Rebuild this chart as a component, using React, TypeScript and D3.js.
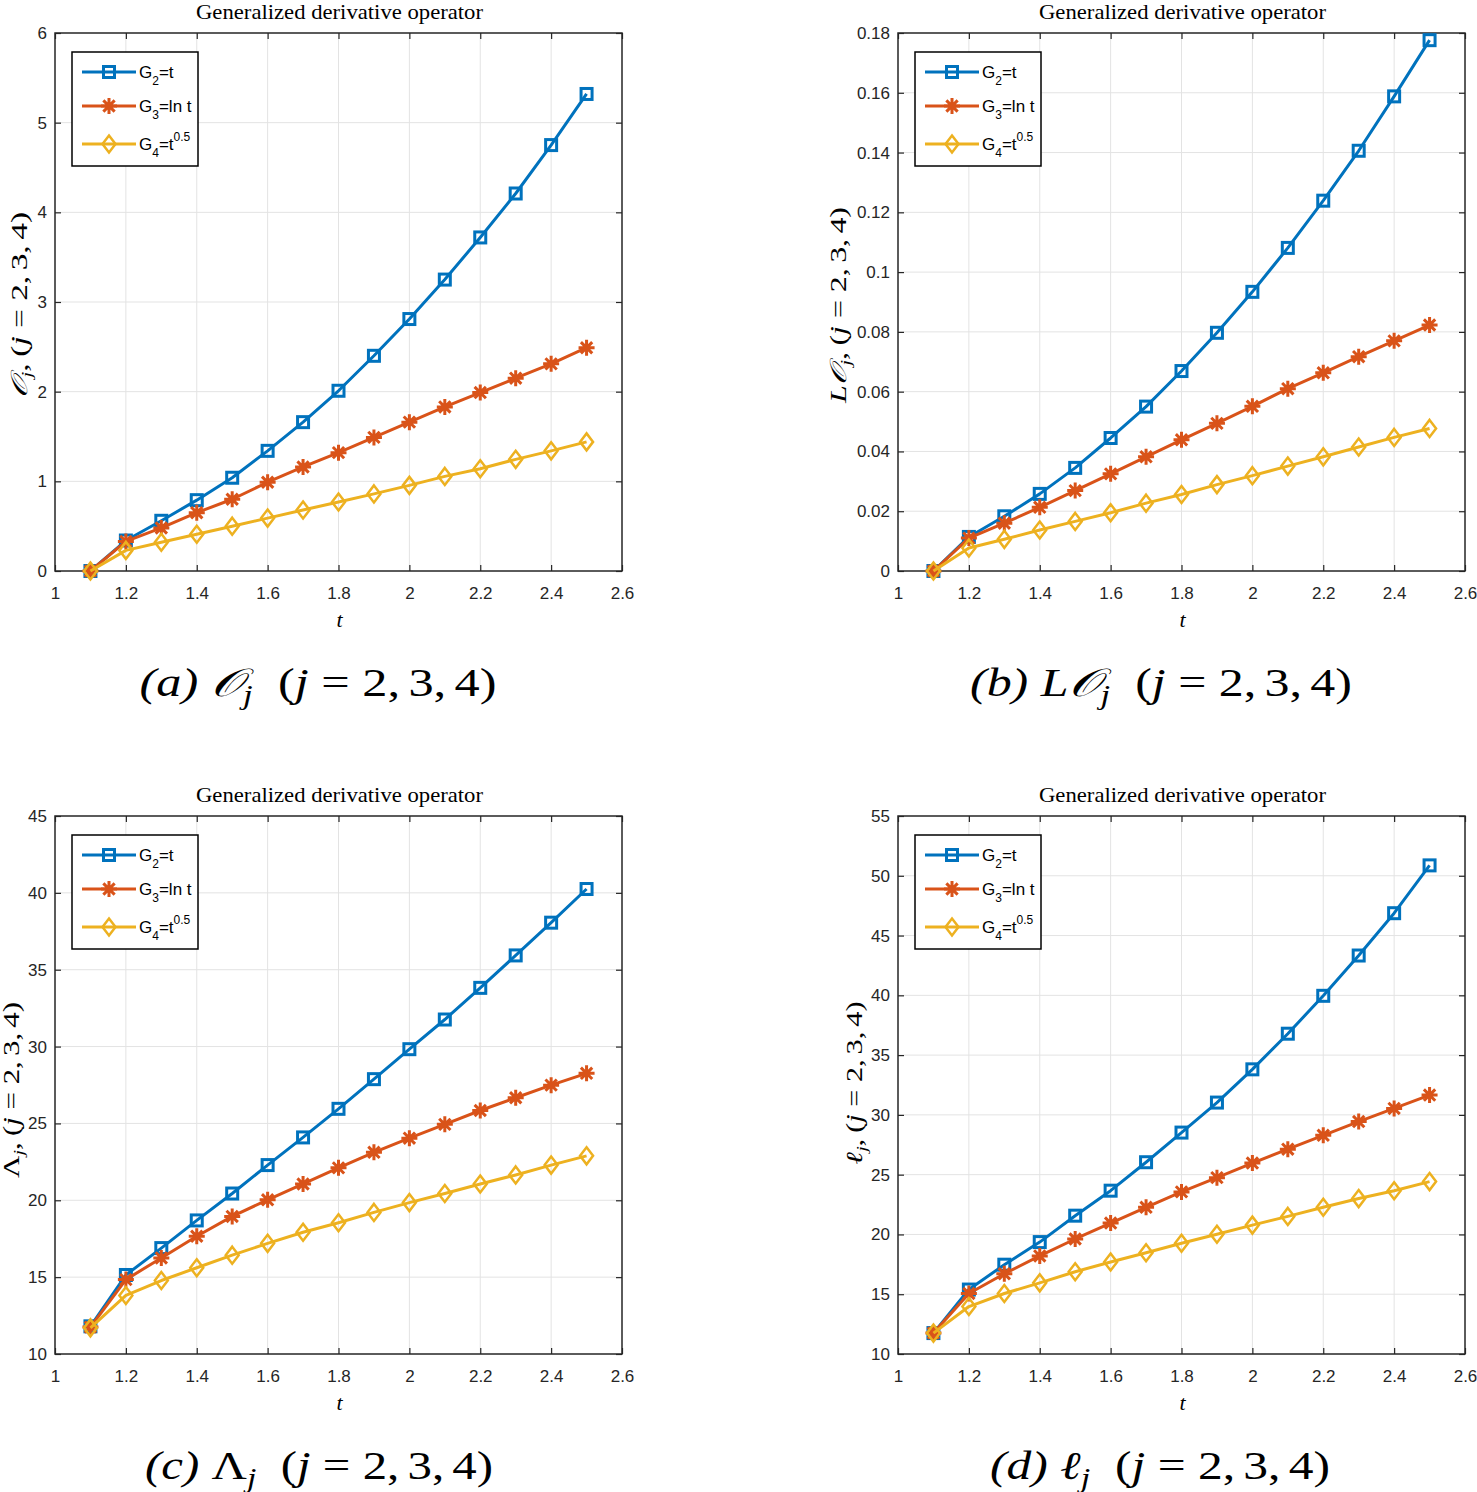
import React, { useEffect, useRef } from 'react'
import * as d3 from 'd3'

// t values shared by all panels
const tValues = [1.1, 1.2, 1.3, 1.4, 1.5, 1.6, 1.7, 1.8, 1.9, 2.0, 2.1, 2.2, 2.3, 2.4, 2.5]

// (a) O_j
const aG2 = [0, 0.34, 0.56, 0.79, 1.04, 1.34, 1.66, 2.01, 2.4, 2.81, 3.25, 3.72, 4.21, 4.75, 5.32]
const aG3 = [0, 0.33, 0.48, 0.65, 0.8, 0.99, 1.16, 1.32, 1.49, 1.66, 1.83, 1.99, 2.15, 2.31, 2.49]
const aG4 = [0, 0.23, 0.32, 0.41, 0.5, 0.59, 0.68, 0.77, 0.86, 0.955, 1.055, 1.14, 1.245, 1.34, 1.44]

// (b) LO_j
const bG2 = [0, 0.0114, 0.0183, 0.0258, 0.0345, 0.0445, 0.055, 0.0669, 0.0797, 0.0934, 0.1081, 0.1239, 0.1406, 0.1588, 0.1776]
const bG3 = [0, 0.011, 0.016, 0.0213, 0.0269, 0.0325, 0.0382, 0.0439, 0.0494, 0.0551, 0.061, 0.0663, 0.0717, 0.077, 0.0823]
const bG4 = [0, 0.0077, 0.0106, 0.0137, 0.0166, 0.0195, 0.0227, 0.0256, 0.0289, 0.0319, 0.0351, 0.0382, 0.0415, 0.0447, 0.0477]

// (c) Lambda_j
const cG2 = [11.8, 15.14, 16.89, 18.69, 20.44, 22.29, 24.09, 25.95, 27.88, 29.83, 31.76, 33.82, 35.93, 38.06, 40.25]
const cG3 = [11.75, 14.84, 16.25, 17.66, 18.95, 20.03, 21.06, 22.11, 23.12, 24.04, 24.94, 25.84, 26.67, 27.49, 28.26]
const cG4 = [11.7, 13.81, 14.78, 15.61, 16.43, 17.2, 17.92, 18.54, 19.21, 19.85, 20.44, 21.06, 21.65, 22.29, 22.89]

// (d) l_j
const dG2 = [11.75, 15.39, 17.47, 19.36, 21.57, 23.66, 26.04, 28.52, 31.03, 33.81, 36.79, 39.96, 43.33, 46.87, 50.87]
const dG3 = [11.75, 15.06, 16.71, 18.2, 19.62, 20.95, 22.27, 23.56, 24.75, 25.97, 27.13, 28.29, 29.44, 30.54, 31.66]
const dG4 = [11.75, 13.97, 15.06, 15.95, 16.88, 17.7, 18.47, 19.26, 20.02, 20.78, 21.51, 22.27, 23.0, 23.66, 24.42]

const xTicks = [1, 1.2, 1.4, 1.6, 1.8, 2, 2.2, 2.4, 2.6]
const aTicks = [0, 1, 2, 3, 4, 5, 6]
const bTicks = [0, 0.02, 0.04, 0.06, 0.08, 0.1, 0.12, 0.14, 0.16, 0.18]
const cTicks = [10, 15, 20, 25, 30, 35, 40, 45]
const dTicks = [10, 15, 20, 25, 30, 35, 40, 45, 50, 55]

const colors = ['#0072BD', '#D95319', '#EDB120']
const markers = ['square', 'asterisk', 'diamond']

const panels = [
  { left: 55, top: 33, yTicks: aTicks, series: [aG2, aG3, aG4], sym: '𝒪', pre: '', tag: 'a',
    yl: [27, 305, 186], cap: [318, 357] },
  { left: 898, top: 33, yTicks: bTicks, series: [bG2, bG3, bG4], sym: '𝒪', pre: 'L', tag: 'b',
    yl: [846, 305, 196], cap: [1161, 382] },
  { left: 55, top: 816, yTicks: cTicks, series: [cG2, cG3, cG4], sym: 'Λ', pre: '', tag: 'c',
    yl: [19, 1090, 176], cap: [319, 348] },
  { left: 898, top: 816, yTicks: dTicks, series: [dG2, dG3, dG4], sym: 'ℓ', pre: '', tag: 'd',
    yl: [862, 1083, 163], cap: [1160, 340] },
]

const W = 567
const H = 538
const serif = "'Liberation Serif', 'DejaVu Serif', serif"
const sans = "'Liberation Sans', Arial, sans-serif"

function drawMarker(g, type, x, y, color) {
  if (type === 'square') {
    g.append('rect').attr('x', x - 5.5).attr('y', y - 5.5).attr('width', 11).attr('height', 11)
      .attr('fill', 'none').attr('stroke', color).attr('stroke-width', 3)
  } else if (type === 'asterisk') {
    const r = 8
    const d = r * Math.SQRT1_2
    g.append('path')
      .attr('d', `M${x - r},${y}L${x + r},${y}M${x},${y - r}L${x},${y + r}M${x - d},${y - d}L${x + d},${y + d}M${x - d},${y + d}L${x + d},${y - d}`)
      .attr('stroke', color).attr('stroke-width', 3).attr('fill', 'none')
  } else {
    g.append('path')
      .attr('d', `M${x},${y - 8.5}L${x + 6.5},${y}L${x},${y + 8.5}L${x - 6.5},${y}Z`)
      .attr('fill', 'none').attr('stroke', color).attr('stroke-width', 2.5)
  }
}

// math-like label: [prefix]Sym_j<sep>(j = 2, 3, 4)
function mathText(t, p, subSize, sep) {
  if (p.pre) t.append('tspan').attr('font-style', 'italic').text(p.pre)
  t.append('tspan').attr('font-style', p.sym === 'Λ' ? 'normal' : 'italic').text(p.sym)
  t.append('tspan').attr('font-style', 'italic').attr('font-size', subSize).attr('dy', subSize * 0.3).text('j')
  t.append('tspan').attr('dy', -subSize * 0.3).text(sep + '(')
  t.append('tspan').attr('font-style', 'italic').text('j')
  t.append('tspan').text('\u2005=\u20052,\u20063,\u20064)')
}

const App = () => {
  const ref = useRef(null)

  useEffect(() => {
    const svg = d3.select(ref.current)
    svg.selectAll('*').remove()

    panels.forEach((p) => {
      const x = d3.scaleLinear().domain([1, 2.6]).range([0, W])
      const y = d3.scaleLinear().domain([p.yTicks[0], p.yTicks[p.yTicks.length - 1]]).range([H, 0])
      const g = svg.append('g').attr('transform', `translate(${p.left},${p.top})`)

      // grid
      g.selectAll('.gx').data(xTicks.slice(1, -1)).enter().append('line')
        .attr('x1', (d) => x(d)).attr('x2', (d) => x(d)).attr('y1', 0).attr('y2', H)
        .attr('stroke', '#e3e3e3').attr('stroke-width', 1)
      g.selectAll('.gy').data(p.yTicks.slice(1, -1)).enter().append('line')
        .attr('y1', (d) => y(d)).attr('y2', (d) => y(d)).attr('x1', 0).attr('x2', W)
        .attr('stroke', '#e3e3e3').attr('stroke-width', 1)

      const fmt = (d) => String(+(+d).toFixed(2))

      // axes with inward ticks
      const bottom = g.append('g').attr('transform', `translate(0,${H})`)
        .call(d3.axisBottom(x).tickValues(xTicks).tickSize(-6).tickPadding(19).tickFormat(fmt))
      const left = g.append('g')
        .call(d3.axisLeft(y).tickValues(p.yTicks).tickSize(-6).tickPadding(8).tickFormat(fmt))
      g.append('g').call(d3.axisTop(x).tickValues(xTicks).tickSize(-6).tickFormat(() => ''))
      g.append('g').attr('transform', `translate(${W},0)`)
        .call(d3.axisRight(y).tickValues(p.yTicks).tickSize(-6).tickFormat(() => ''))
      g.selectAll('.domain').remove()
      g.selectAll('.tick line').attr('stroke', '#262626').attr('stroke-width', 1.2)
      ;[bottom, left].forEach((a) => a.selectAll('text').attr('font-family', sans).attr('font-size', 17).attr('fill', '#262626'))
      bottom.selectAll('text').attr('dy', '0.5em')

      g.append('rect').attr('width', W).attr('height', H).attr('fill', 'none')
        .attr('stroke', '#262626').attr('stroke-width', 1.5)

      // title
      g.append('text').attr('x', W / 2 + 1).attr('y', -14).attr('text-anchor', 'middle')
        .attr('font-family', serif).attr('font-size', 21).attr('fill', '#000')
        .attr('textLength', 287).attr('lengthAdjust', 'spacingAndGlyphs')
        .text('Generalized derivative operator')

      // x label
      g.append('text').attr('x', W / 2 + 1).attr('y', H + 56).attr('text-anchor', 'middle')
        .attr('font-family', serif).attr('font-style', 'italic').attr('font-size', 22).text('t')

      // y label
      const yl = svg.append('text')
        .attr('transform', `translate(${p.yl[0]},${p.yl[1]}) rotate(-90)`)
        .attr('text-anchor', 'middle').attr('font-family', serif).attr('font-size', 23)
        .attr('textLength', p.yl[2]).attr('lengthAdjust', 'spacingAndGlyphs')
      mathText(yl, p, 15, ',\u2009')

      // lines + markers
      const line = d3.line().x((d) => x(d[0])).y((d) => y(d[1]))
      p.series.forEach((s, i) => {
        const pts = tValues.map((t, k) => [t, s[k]])
        g.append('path').datum(pts).attr('d', line).attr('fill', 'none')
          .attr('stroke', colors[i]).attr('stroke-width', 3).attr('stroke-linejoin', 'round')
        pts.forEach((pt) => drawMarker(g, markers[i], x(pt[0]), y(pt[1]), colors[i]))
      })

      // legend
      const lg = g.append('g').attr('transform', 'translate(17,19)')
      lg.append('rect').attr('width', 126).attr('height', 114).attr('fill', '#fff')
        .attr('stroke', '#000').attr('stroke-width', 1.5)
      const rowsY = [20, 54, 92]
      const labels = [['2', '=t', ''], ['3', '=ln t', ''], ['4', '=t', '0.5']]
      labels.forEach((lab, i) => {
        const ly = rowsY[i]
        lg.append('line').attr('x1', 10).attr('x2', 64).attr('y1', ly).attr('y2', ly)
          .attr('stroke', colors[i]).attr('stroke-width', 3)
        drawMarker(lg, markers[i], 37, ly, colors[i])
        const tx = lg.append('text').attr('x', 67).attr('y', ly + 6)
          .attr('font-family', sans).attr('font-size', 17).attr('fill', '#000')
        tx.append('tspan').text('G')
        tx.append('tspan').attr('font-size', 12).attr('dy', 7).text(lab[0])
        tx.append('tspan').attr('dy', -7).text(lab[1])
        if (lab[2]) tx.append('tspan').attr('font-size', 12).attr('dy', -9).text(lab[2])
      })

      // caption
      const cap = svg.append('text').attr('x', p.cap[0]).attr('y', p.top + H + 125)
        .attr('text-anchor', 'middle').attr('font-family', serif).attr('font-size', 39).attr('fill', '#000')
        .attr('textLength', p.cap[1]).attr('lengthAdjust', 'spacingAndGlyphs')
      cap.append('tspan').attr('font-style', 'italic').text(`(${p.tag})\u2005`)
      mathText(cap, p, 27, '\u2002')
    })
  }, [])

  return (
    <svg ref={ref} width={1477} height={1492}
      style={{ position: 'absolute', left: 0, top: 0, background: '#fff' }} />
  )
}

export default App
